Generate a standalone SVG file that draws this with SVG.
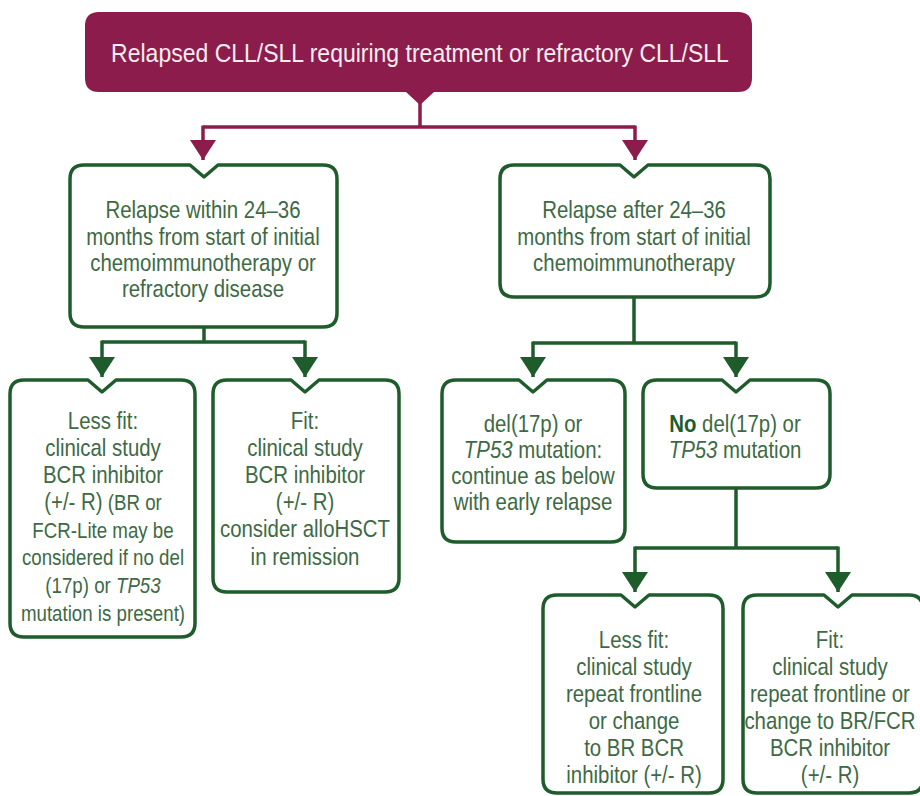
<svg xmlns="http://www.w3.org/2000/svg" width="920" height="796" viewBox="0 0 920 796">
<defs>
<style>
.box{fill:#ffffff;stroke:#1f5c2c;stroke-width:3.5;stroke-linejoin:round}
.t{font-family:"Liberation Sans",Arial,sans-serif;font-size:24px;fill:#3d6a44;text-anchor:middle}
.s{font-size:22px}
.i{font-style:italic}
.b{font-weight:bold;fill:#1f5c2c}
.top{font-family:"Liberation Sans",Arial,sans-serif;font-size:25px;fill:#f6ecef;text-anchor:middle}
.cg{fill:none;stroke:#1f5c2c;stroke-width:3.5}
.cr{fill:none;stroke:#8c1c4b;stroke-width:3.5}
</style>
<marker id="ag" viewBox="0 0 26 20" refX="13" refY="20" markerWidth="26" markerHeight="20" markerUnits="userSpaceOnUse" orient="0">
<path d="M0,0 L26,0 L13,20 Z" fill="#1f5c2c"/>
</marker>
<marker id="ar" viewBox="0 0 26 20" refX="13" refY="20" markerWidth="26" markerHeight="20" markerUnits="userSpaceOnUse" orient="0">
<path d="M0,0 L26,0 L13,20 Z" fill="#8c1c4b"/>
</marker>
</defs>
<rect width="920" height="796" fill="#ffffff"/>

<g id="connectors">
<path class="cr" d="M420,100 V127 M203,127 H635"/>
<path class="cr" d="M203,125.5 V160" marker-end="url(#ar)"/>
<path class="cr" d="M635,125.5 V160" marker-end="url(#ar)"/>
<path class="cg" d="M204,327 V342 M102,342 H305"/>
<path class="cg" d="M102,340.5 V377" marker-end="url(#ag)"/>
<path class="cg" d="M305,340.5 V377" marker-end="url(#ag)"/>
<path class="cg" d="M634,297 V343 M533,343 H736"/>
<path class="cg" d="M533,341.5 V377" marker-end="url(#ag)"/>
<path class="cg" d="M736,341.5 V377" marker-end="url(#ag)"/>
<path class="cg" d="M736,488 V548 M635,548 H838"/>
<path class="cg" d="M635,546.5 V592" marker-end="url(#ag)"/>
<path class="cg" d="M838,546.5 V592" marker-end="url(#ag)"/>
</g>

<g id="start">
<path d="M99,12 H738 Q752,12 752,26 V78 Q752,92 738,92 H434 L420,105 L406,92 H99 Q85,92 85,78 V26 Q85,12 99,12 Z" fill="#8c1c4b"/>
<g transform="translate(420 0) scale(0.92 1)">
<text class="top" x="0" y="62">Relapsed CLL/SLL requiring treatment or refractory CLL/SLL</text>
</g>
</g>

<g id="early">
<path class="box" d="M84,165 H190 L204,177 L218,165 H323 Q337,165 337,179 V313 Q337,327 323,327 H84 Q70,327 70,313 V179 Q70,165 84,165 Z"/>
<g transform="translate(203 0) scale(0.85 1)">
<text class="t" x="0" y="218">Relapse within 24–36</text>
<text class="t" x="0" y="245">months from start of initial</text>
<text class="t" x="0" y="271">chemoimmunotherapy or</text>
<text class="t" x="0" y="297">refractory disease</text>
</g>
</g>

<g id="late">
<path class="box" d="M514,165 H620 L634,177 L648,165 H756 Q770,165 770,179 V283 Q770,297 756,297 H514 Q500,297 500,283 V179 Q500,165 514,165 Z"/>
<g transform="translate(634 0) scale(0.85 1)">
<text class="t" x="0" y="218">Relapse after 24–36</text>
<text class="t" x="0" y="245">months from start of initial</text>
<text class="t" x="0" y="271">chemoimmunotherapy</text>
</g>
</g>

<g id="early-lessfit">
<path class="box" d="M24,380 H88 L102,392 L116,380 H181 Q195,380 195,394 V623 Q195,637 181,637 H24 Q10,637 10,623 V394 Q10,380 24,380 Z"/>
<g transform="translate(103 0) scale(0.85 1)">
<text class="t" x="0" y="429">Less fit:</text>
<text class="t" x="0" y="456">clinical study</text>
<text class="t" x="0" y="483">BCR inhibitor</text>
<text class="t" x="0" y="510">(+/- R)<tspan class="s"> (BR or</tspan></text>
<text class="t s" x="0" y="538">FCR-Lite may be</text>
<text class="t s" x="0" y="565">considered if no del</text>
<text class="t s" x="0" y="593">(17p) or <tspan class="i">TP53</tspan></text>
<text class="t s" x="0" y="621">mutation is present)</text>
</g>
</g>

<g id="early-fit">
<path class="box" d="M227,380 H291 L305,392 L319,380 H385 Q399,380 399,394 V578 Q399,592 385,592 H227 Q213,592 213,578 V394 Q213,380 227,380 Z"/>
<g transform="translate(305 0) scale(0.85 1)">
<text class="t" x="0" y="429">Fit:</text>
<text class="t" x="0" y="456">clinical study</text>
<text class="t" x="0" y="483">BCR inhibitor</text>
<text class="t" x="0" y="510">(+/- R)</text>
<text class="t" x="0" y="537">consider alloHSCT</text>
<text class="t" x="0" y="565">in remission</text>
</g>
</g>

<g id="late-del17p">
<path class="box" d="M456,380 H519 L533,392 L547,380 H611 Q625,380 625,394 V528 Q625,542 611,542 H456 Q442,542 442,528 V394 Q442,380 456,380 Z"/>
<g transform="translate(533 0) scale(0.85 1)">
<text class="t" x="0" y="432">del(17p) or</text>
<text class="t" x="0" y="458"><tspan class="i">TP53</tspan> mutation:</text>
<text class="t" x="0" y="484">continue as below</text>
<text class="t" x="0" y="510">with early relapse</text>
</g>
</g>

<g id="late-no-del17p">
<path class="box" d="M657,380 H722 L736,392 L750,380 H816 Q830,380 830,394 V474 Q830,488 816,488 H657 Q643,488 643,474 V394 Q643,380 657,380 Z"/>
<g transform="translate(735 0) scale(0.85 1)">
<text class="t" x="0" y="432"><tspan class="b">No</tspan> del(17p) or</text>
<text class="t" x="0" y="458"><tspan class="i">TP53</tspan> mutation</text>
</g>
</g>

<g id="late-lessfit">
<path class="box" d="M557,595 H621 L635,607 L649,595 H709 Q723,595 723,609 V779 Q723,793 709,793 H557 Q543,793 543,779 V609 Q543,595 557,595 Z"/>
<g transform="translate(634 0) scale(0.85 1)">
<text class="t" x="0" y="648">Less fit:</text>
<text class="t" x="0" y="675">clinical study</text>
<text class="t" x="0" y="702">repeat frontline</text>
<text class="t" x="0" y="729">or change</text>
<text class="t" x="0" y="756">to BR BCR</text>
<text class="t" x="0" y="783">inhibitor (+/- R)</text>
</g>
</g>

<g id="late-fit">
<path class="box" d="M757,595 H824 L838,607 L852,595 H909 Q923,595 923,609 V779 Q923,793 909,793 H757 Q743,793 743,779 V609 Q743,595 757,595 Z"/>
<g transform="translate(830 0) scale(0.85 1)">
<text class="t" x="0" y="648">Fit:</text>
<text class="t" x="0" y="675">clinical study</text>
<text class="t" x="0" y="702">repeat frontline or</text>
<text class="t" x="0" y="729">change to BR/FCR</text>
<text class="t" x="0" y="756">BCR inhibitor</text>
<text class="t" x="0" y="783">(+/- R)</text>
</g>
</g>
</svg>
